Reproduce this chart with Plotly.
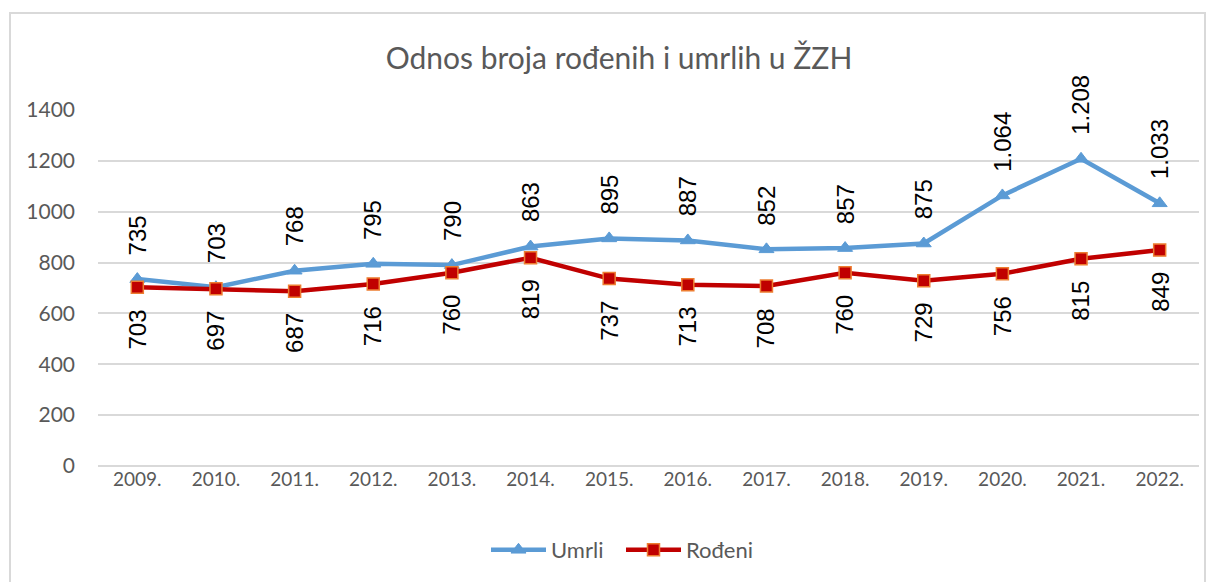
import plotly.graph_objects as go

years = ["2009.", "2010.", "2011.", "2012.", "2013.", "2014.", "2015.",
         "2016.", "2017.", "2018.", "2019.", "2020.", "2021.", "2022."]
umrli = [735, 703, 768, 795, 790, 863, 895, 887, 852, 857, 875, 1064, 1208, 1033]
rodeni = [703, 697, 687, 716, 760, 819, 737, 713, 708, 760, 729, 756, 815, 849]
y_ticks = [0, 200, 400, 600, 800, 1000, 1200, 1400]


def fmt(v):
    return f"{v:,}".replace(",", ".")


W, H = 1213, 582
L, R, T, B = 98, 14, 110, 116

fig = go.Figure()
fig.add_trace(go.Scatter(
    x=years, y=umrli, name="Umrli", mode="lines+markers",
    line=dict(color="#5b9bd5", width=4.5),
    marker=dict(symbol="triangle-up", size=13, color="#5b9bd5",
                line=dict(color="#5b9bd5", width=1)),
))
fig.add_trace(go.Scatter(
    x=years, y=rodeni, name="Rođeni", mode="lines+markers",
    line=dict(color="#c00000", width=4.5),
    marker=dict(symbol="square", size=12, color="#c00000",
                line=dict(color="#ed7d31", width=1.5)),
))

label_font = dict(family="Liberation Sans", size=24, color="#000000")
annotations = []
for i, v in enumerate(umrli):
    annotations.append(dict(x=i, y=v, xref="x", yref="y", text=fmt(v), textangle=-90,
                            showarrow=False, yanchor="bottom", xanchor="center", yshift=22,
                            font=label_font))
for i, v in enumerate(rodeni):
    annotations.append(dict(x=i, y=v, xref="x", yref="y", text=fmt(v), textangle=-90,
                            showarrow=False, yanchor="top", xanchor="center", yshift=-20,
                            font=label_font))

pw = W - L - R
ph = H - T - B
fig.update_layout(
    width=W, height=H,
    margin=dict(l=L, r=R, t=T, b=B, autoexpand=False),
    paper_bgcolor="white", plot_bgcolor="white",
    title=dict(text="Odnos broja rođenih i umrlih u ŽZH", x=619 / W, xanchor="center",
               y=1 - 58 / H, yanchor="middle", xref="container", yref="container",
               font=dict(family="Lato", size=30, color="#595959")),
    xaxis=dict(type="category", showgrid=False, showline=False, ticks="",
               automargin=False,
               tickfont=dict(family="Lato", size=19, color="#595959"),
               range=[-0.5, len(years) - 0.5]),
    yaxis=dict(range=[0, 1400], tickvals=y_ticks, showgrid=True, gridcolor="#d9d9d9",
               gridwidth=1.5, zeroline=True, zerolinecolor="#d9d9d9", zerolinewidth=1.5,
               showline=False, ticks="", ticklabelstandoff=22, automargin=False,
               tickfont=dict(family="Lato", size=21, color="#595959")),
    legend=dict(orientation="h", x=621 / W, xanchor="center", y=1 - 550 / H,
                yanchor="middle", xref="container", yref="container",
                itemwidth=55, entrywidth=65, entrywidthmode="pixels",
                font=dict(family="Lato", size=22, color="#595959")),
    annotations=annotations,
    shapes=[dict(type="rect", xref="paper", yref="paper",
                 x0=(10 - L) / pw, x1=(1205 - L) / pw,
                 y0=-(B + 20) / ph, y1=1 + (T - 13) / ph,
                 line=dict(color="#d9d9d9", width=2), fillcolor="rgba(0,0,0,0)", layer="below")],
    showlegend=True,
)
fig.write_html("out.html", config={"displayModeBar": False},
               post_script="document.body.style.margin='0';document.body.style.overflow='hidden';")
